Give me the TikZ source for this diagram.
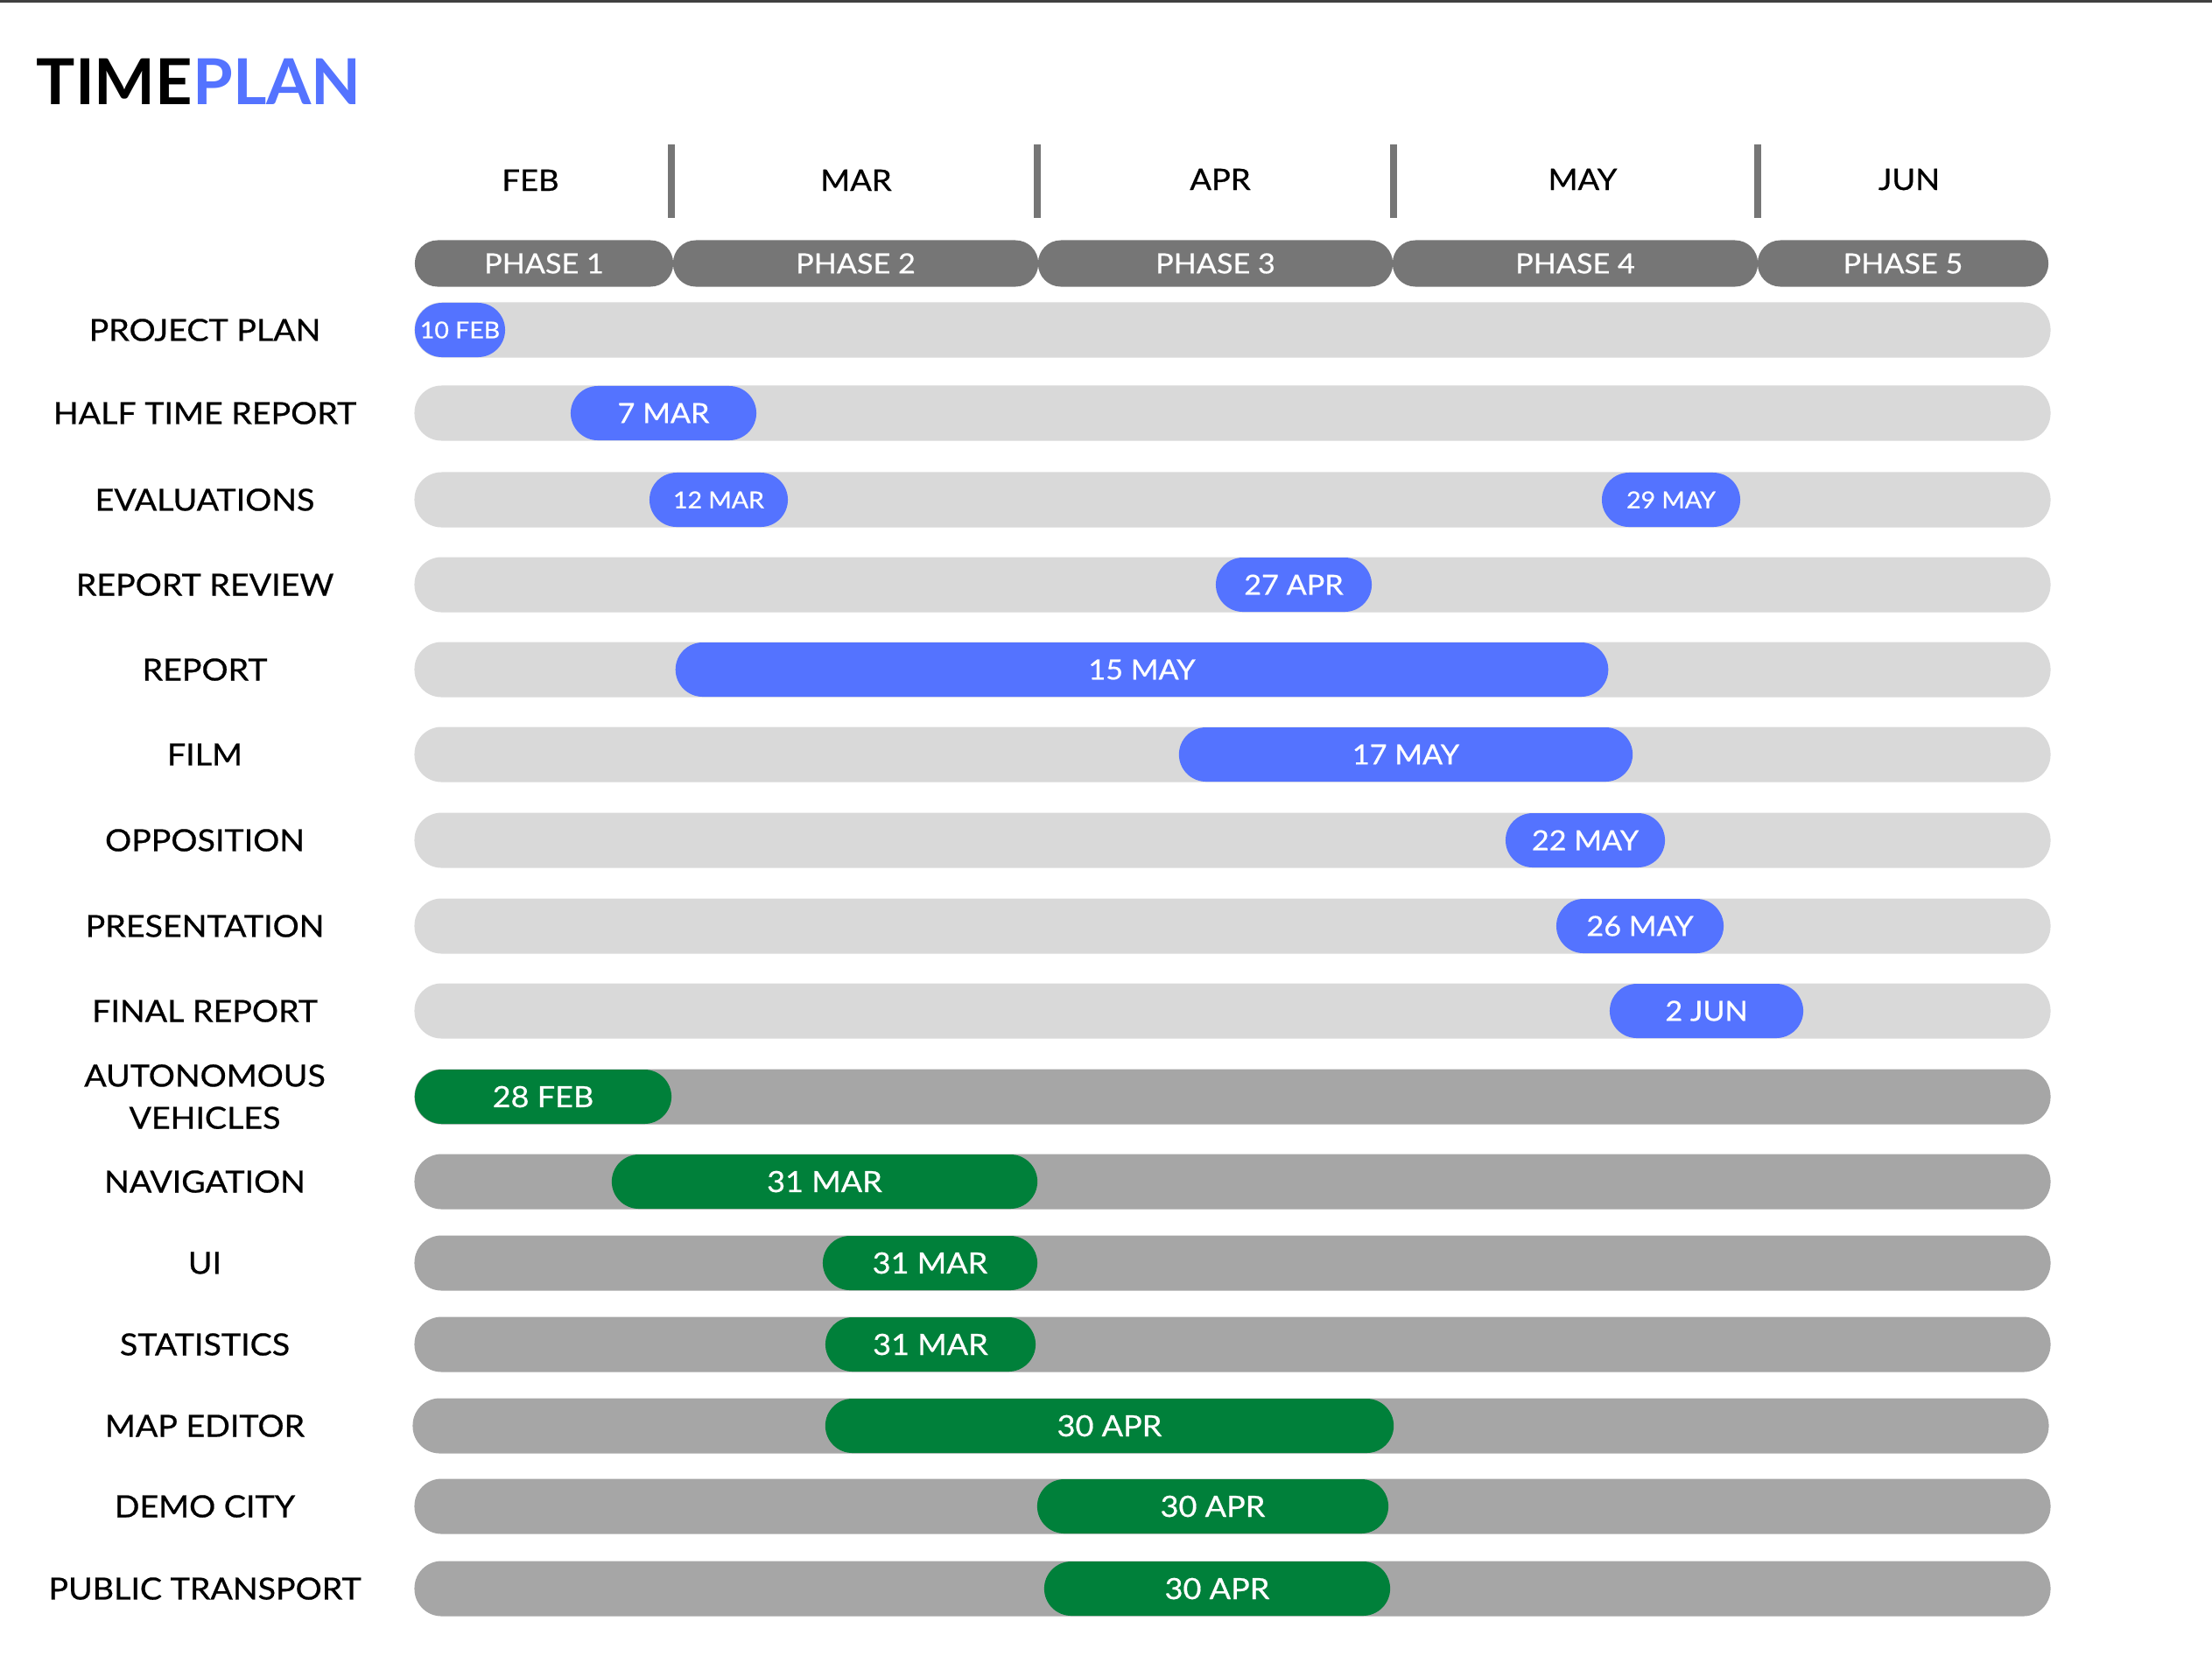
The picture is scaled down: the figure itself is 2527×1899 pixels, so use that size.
\documentclass[tikz,border=0pt]{standalone}
\usepackage{fontspec}
\setmainfont{Lato}[FakeStretch=1.08, FakeBold=0.6]
\newfontfamily\titlefont{Lato}[FakeStretch=1.02]
\usepackage{xcolor}
\usepackage{tikz}
\usetikzlibrary{positioning}
\definecolor{planblue}{HTML}{5473FF}
\definecolor{plangreen}{HTML}{00803A}
\definecolor{phasegray}{HTML}{767676}
\definecolor{barlight}{HTML}{D9D9D9}
\definecolor{bardark}{HTML}{A6A6A6}
\tikzstyle{lightbar} = [rectangle, rounded corners=0.31cm,
minimum width=18.68cm,
minimum height=0.63cm,
inner sep=0pt, fill=barlight]
\tikzstyle{darkbar} = [lightbar, fill=bardark]
\tikzstyle{bluepill} = [rectangle, rounded corners=0.31cm,
minimum height=0.62cm,
inner sep=0pt, fill=planblue, text=white,
font=\fontsize{9.0}{11}\selectfont]
\tikzstyle{smallpill} = [bluepill, font=\fontsize{7.5}{9}\selectfont]
\tikzstyle{greenpill} = [rectangle, rounded corners=0.31cm,
minimum height=0.62cm,
inner sep=0pt, fill=plangreen, text=white,
font=\fontsize{9.5}{11}\selectfont]
\tikzstyle{phase} = [rectangle, rounded corners=0.26cm,
minimum height=0.53cm,
inner sep=0pt, fill=phasegray, text=white,
font=\fontsize{9.0}{11}\selectfont]
\tikzstyle{month} = [anchor=base, inner sep=0pt, font=\fontsize{9.6}{12}\selectfont]
\tikzstyle{rowlabel} = [align=center, inner sep=0pt, font=\fontsize{9.9}{13.7}\selectfont]
\tikzstyle{sep} = [line width=0.08cm, draw=phasegray]

\begin{document}
\begin{tikzpicture}[x=0.01cm, y=-0.01cm]
        \useasboundingbox (0,0) rectangle (2527,1899);
        \draw [line width=0.03cm, draw=black!75] (0,1) -- (2527,1);

        % Title
        \node (title) [anchor=base west, inner sep=0pt, font=\titlefont\bfseries\fontsize{20.6}{24}\selectfont] at (41,119) {TIME\textcolor{planblue}{PLAN}};

        % Months
        \node (feb) [month] at (606,218) {FEB};
        \node (mar) [month] at (978,218) {MAR};
        \node (apr) [month] at (1394,217) {APR};
        \node (may) [month] at (1808,217) {MAY};
        \node (jun) [month] at (2181,217) {JUN};
        \draw [sep] (767,165) -- (767,249);
        \draw [sep] (1185,165) -- (1185,249);
        \draw [sep] (1592,165) -- (1592,249);
        \draw [sep] (2008,165) -- (2008,249);

        % Phases
        \node (ph1) [phase, minimum width=2.95cm] at (621.5,301) {PHASE 1};
        \node (ph2) [phase, minimum width=4.17cm] at (977.5,301) {PHASE 2};
        \node (ph3) [phase, minimum width=4.05cm] at (1388.5,301) {PHASE 3};
        \node (ph4) [phase, minimum width=4.17cm] at (1799.5,301) {PHASE 4};
        \node (ph5) [phase, minimum width=3.32cm] at (2174,301) {PHASE 5};

        % Rows
        \node (lplan) [rowlabel] at (234,377) {PROJECT PLAN};
        \node (lhalf) [rowlabel] at (234,472) {HALF TIME REPORT};
        \node (leval) [rowlabel] at (234,571) {EVALUATIONS};
        \node (lreview) [rowlabel] at (234,668) {REPORT REVIEW};
        \node (lreport) [rowlabel] at (234,765) {REPORT};
        \node (lfilm) [rowlabel] at (234,862) {FILM};
        \node (lopp) [rowlabel] at (234,960) {OPPOSITION};
        \node (lpres) [rowlabel] at (234,1058) {PRESENTATION};
        \node (lfinal) [rowlabel] at (234,1155) {FINAL REPORT};
        \node (lauto) [rowlabel] at (234,1253) {AUTONOMOUS\\VEHICLES};
        \node (lnav) [rowlabel] at (234,1350) {NAVIGATION};
        \node (lui) [rowlabel] at (234,1443) {UI};
        \node (lstat) [rowlabel] at (234,1536) {STATISTICS};
        \node (lmap) [rowlabel] at (234,1629) {MAP EDITOR};
        \node (ldemo) [rowlabel] at (234,1721) {DEMO CITY};
        \node (lpublic) [rowlabel] at (234,1815) {PUBLIC TRANSPORT};

        % Bars
        \node (bplan) [lightbar] at (1408,377) {};
        \node (bhalf) [lightbar] at (1408,472) {};
        \node (beval) [lightbar] at (1408,571) {};
        \node (breview) [lightbar] at (1408,668) {};
        \node (breport) [lightbar] at (1408,765) {};
        \node (bfilm) [lightbar] at (1408,862) {};
        \node (bopp) [lightbar] at (1408,960) {};
        \node (bpres) [lightbar] at (1408,1058) {};
        \node (bfinal) [lightbar] at (1408,1155) {};
        \node (bauto) [darkbar] at (1408,1253) {};
        \node (bnav) [darkbar] at (1408,1350) {};
        \node (bui) [darkbar] at (1408,1443) {};
        \node (bstat) [darkbar] at (1408,1536) {};
        \node (bmap) [darkbar] at (1406,1629) {};
        \node (bdemo) [darkbar] at (1408,1721) {};
        \node (bpublic) [darkbar] at (1408,1815) {};

        % Deadlines
        \node (dplan) [smallpill, minimum width=1.03cm] at (525.5,377) {10 FEB};
        \node (dhalf) [bluepill, minimum width=2.12cm] at (758,472) {7 MAR};
        \node (deval) [smallpill, minimum width=1.58cm] at (821,571) {12 MAR};
        \node (deval2) [smallpill, minimum width=1.58cm] at (1909,571) {29 MAY};
        \node (dreview) [bluepill, minimum width=1.78cm] at (1478,668) {27 APR};
        \node (dreport) [bluepill, minimum width=10.65cm] at (1304.5,765) {15 MAY};
        \node (dfilm) [bluepill, minimum width=5.18cm] at (1606,862) {17 MAY};
        \node (dopp) [bluepill, minimum width=1.82cm] at (1811,960) {22 MAY};
        \node (dpres) [bluepill, minimum width=1.91cm] at (1873.5,1058) {26 MAY};
        \node (dfinal) [bluepill, minimum width=2.21cm] at (1949.5,1155) {2 JUN};
        \node (dauto) [greenpill, minimum width=2.93cm] at (620.5,1253) {28 FEB};
        \node (dnav) [greenpill, minimum width=4.86cm] at (942,1350) {31 MAR};
        \node (dui) [greenpill, minimum width=2.45cm] at (1062.5,1443) {31 MAR};
        \node (dstat) [greenpill, minimum width=2.40cm] at (1063,1536) {31 MAR};
        \node (dmap) [greenpill, minimum width=6.49cm] at (1267.5,1629) {30 APR};
        \node (ddemo) [greenpill, minimum width=4.01cm] at (1385.5,1721) {30 APR};
        \node (dpublic) [greenpill, minimum width=3.95cm] at (1390.5,1815) {30 APR};

    \end{tikzpicture}
\end{document}
